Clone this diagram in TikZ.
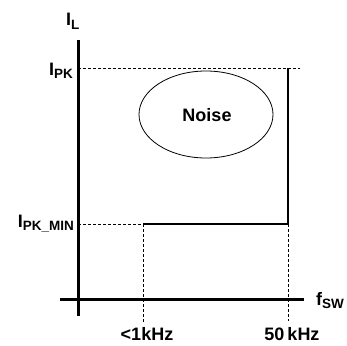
\documentclass[tikz,border=0pt]{standalone}
\usepackage{fontspec}
\setmainfont{Liberation Sans}
\usetikzlibrary{shapes.geometric}
\newcommand{\lsub}[1]{\raisebox{-3.5pt}{\fontsize{13.5}{13.5}\selectfont #1}}
\begin{document}
\begin{tikzpicture}[x=1pt,y=-1pt,
  axis/.style={line width=3pt},
  curve/.style={line width=2.6pt},
  guide/.style={line width=1pt,dash pattern=on 3pt off 2pt},
  lab/.style={inner sep=0pt,font=\fontsize{18}{20}\selectfont\bfseries}]
\useasboundingbox (0,0) rectangle (347,345);
% coordinates
\coordinate (ytop) at (78,40);
\coordinate (ybot) at (78,316);
\coordinate (xl) at (60,299);
\coordinate (xr) at (304,299);
\coordinate (pk0) at (78,68);
\coordinate (pk1) at (300,68);
\coordinate (top) at (288,68);
\coordinate (corner) at (288,224);
\coordinate (min0) at (78,224);
\coordinate (start) at (143,224);
\coordinate (d1) at (143,322);
\coordinate (d2) at (288,321);
% axes
\draw[axis] (ytop) -- (ybot);
\draw[axis] (xl) -- (xr);
% guides
\draw[guide] (pk0) -- (pk1);
\draw[guide] (min0) -- (start);
\draw[guide] (start) -- (d1);
\draw[guide] (corner) -- (d2);
% curve
\draw[curve] (start) -- (corner) -- (top);
% ellipse
\node[ellipse,draw,line width=0.8pt,minimum width=134pt,minimum height=87pt,inner sep=0pt] (noise) at (206,114.5) {};
\node[lab,anchor=base] (noiset) at (207,121) {Noise};
% labels
\node[lab,anchor=base west] (il) at (66,26) {I\lsub{L}};
\node[lab,anchor=base east] (ipk) at (73,75) {I\lsub{PK}};
\node[lab,anchor=base east] (ipkmin) at (74,227) {I\lsub{PK\_MIN}};
\node[lab,anchor=base] (f1) at (147,340.5) {<1kHz};
\node[lab,anchor=base] (f2) at (292,340.5) {50\,kHz};
\node[lab,anchor=base west] (fsw) at (316,305) {f\lsub{SW}};
\end{tikzpicture}
\end{document}
